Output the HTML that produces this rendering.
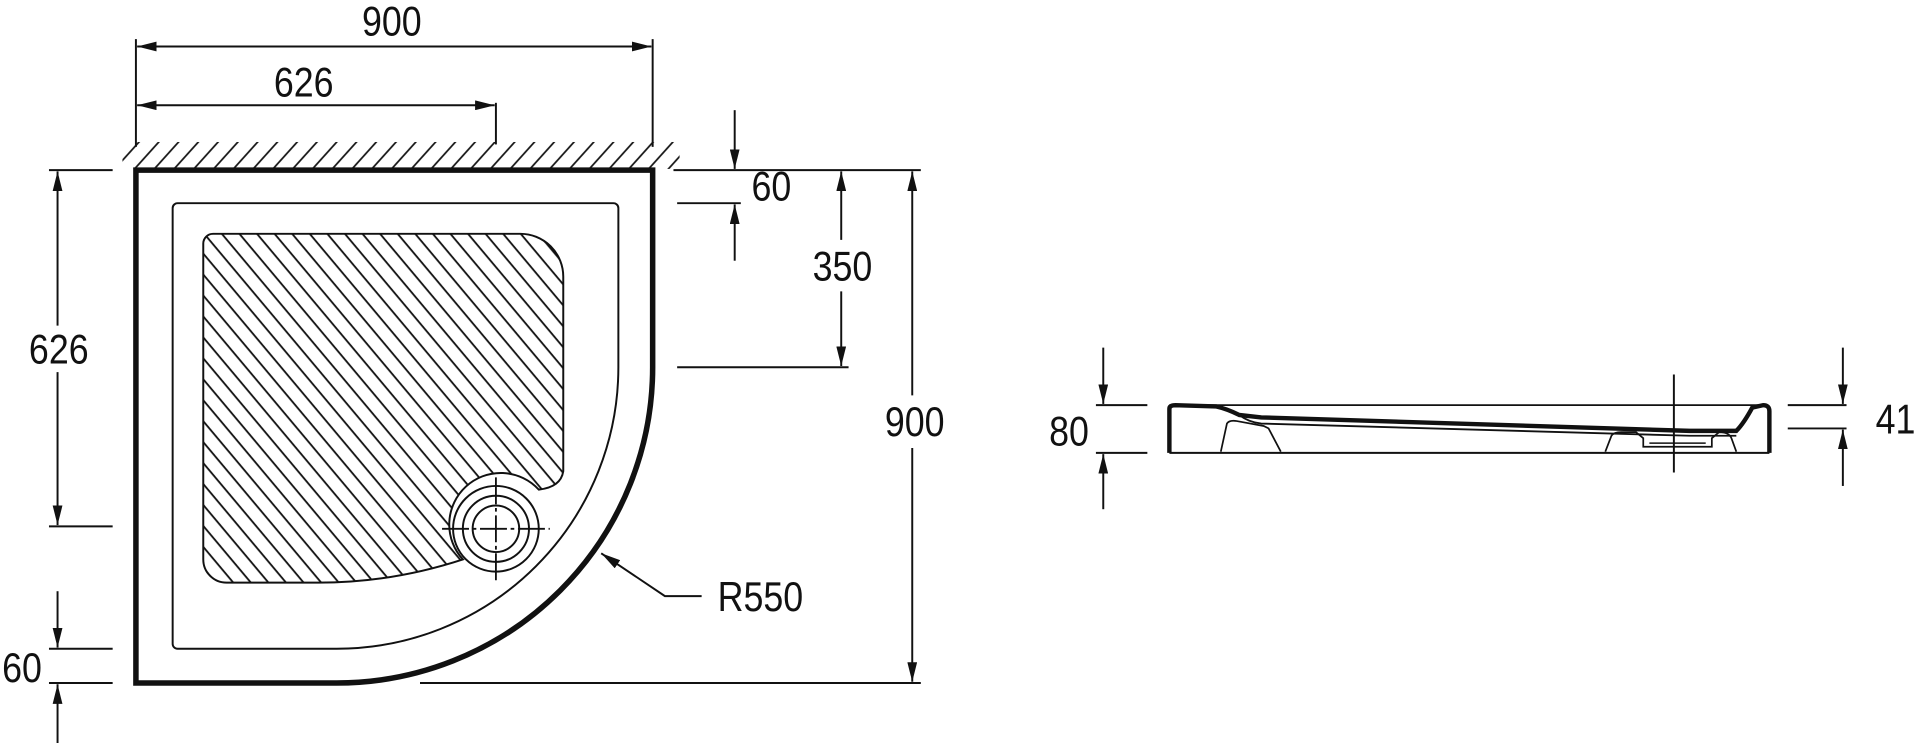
<!DOCTYPE html>
<html><head><meta charset="utf-8"><style>
html,body{margin:0;padding:0;background:#fff;}
svg{display:block;}
text{font-family:"Liberation Sans",sans-serif;font-size:34px;fill:#111;text-anchor:middle;}
</style></head><body>
<svg width="1920" height="743" viewBox="0 0 1568 607" preserveAspectRatio="none" xmlns="http://www.w3.org/2000/svg">
<defs>
<pattern id="hatch" patternUnits="userSpaceOnUse" width="11" height="11" patternTransform="rotate(-40)">
<line x1="5" y1="0" x2="5" y2="11" stroke="#111" stroke-width="1.5"/>
</pattern>
<pattern id="wall" patternUnits="userSpaceOnUse" width="12" height="40" patternTransform="rotate(42)">
<line x1="6" y1="0" x2="6" y2="40" stroke="#111" stroke-width="1.4"/>
</pattern>
<clipPath id="hc"><path d="M174,191 H425 A35,35 0 0 1 460,226 V385 Q458,398 440,400 A38,38 0 0 0 378,457 Q320,476 260,476 H185 A19,19 0 0 1 166,457 V199 A8,8 0 0 1 174,191 Z"/></clipPath>
<marker id="ar" viewBox="0 0 16 8" refX="16" refY="4" markerWidth="16" markerHeight="8" markerUnits="userSpaceOnUse" orient="auto-start-reverse">
<path d="M0,0 L16,4 L0,8 Z" fill="#111"/>
</marker>
</defs>
<g stroke="#111" fill="none">
<rect x="100" y="116" width="455" height="22" fill="url(#wall)" stroke="none"/>
<path d="M111,139 H533 V300 A258,258 0 0 1 275,558 H111 Z" stroke-width="4.5"/>
<path d="M145,166 H501 A4,4 0 0 1 505,170 V300 A230,230 0 0 1 275,530 H145 A4,4 0 0 1 141,526 V170 A4,4 0 0 1 145,166 Z" stroke-width="1.6"/>
<rect x="160" y="185" width="310" height="300" fill="url(#hatch)" stroke="none" clip-path="url(#hc)"/>
<path d="M174,191 H425 A35,35 0 0 1 460,226 V385 Q458,398 440,400 A38,38 0 0 0 378,457 Q320,476 260,476 H185 A19,19 0 0 1 166,457 V199 A8,8 0 0 1 174,191 Z" stroke-width="1.6"/>
<circle cx="405" cy="432" r="35" stroke-width="1.6" fill="#fff"/>
<circle cx="405" cy="432" r="27" stroke-width="1.6"/>
<circle cx="405" cy="432" r="19" stroke-width="1.6"/>
<line x1="361" y1="432" x2="449" y2="432" stroke-width="1.5" stroke-dasharray="22,3,3,3"/>
<line x1="405" y1="390" x2="405" y2="474" stroke-width="1.5" stroke-dasharray="22,3,3,3"/>

<g stroke-width="1.6">
<line x1="111" y1="32" x2="111" y2="120"/><line x1="533" y1="32" x2="533" y2="120"/>
<line x1="112" y1="38" x2="532" y2="38" marker-start="url(#ar)" marker-end="url(#ar)"/>
<line x1="405" y1="84" x2="405" y2="118"/>
<line x1="112" y1="86" x2="404" y2="86" marker-start="url(#ar)" marker-end="url(#ar)"/>
<line x1="40" y1="139" x2="92" y2="139"/><line x1="40" y1="430" x2="92" y2="430"/>
<line x1="47" y1="140" x2="47" y2="266" marker-start="url(#ar)"/>
<line x1="47" y1="304" x2="47" y2="429" marker-end="url(#ar)"/>
<line x1="40" y1="530" x2="92" y2="530"/><line x1="40" y1="558" x2="92" y2="558"/>
<line x1="47" y1="483" x2="47" y2="529" marker-end="url(#ar)"/>
<line x1="47" y1="607" x2="47" y2="559" marker-end="url(#ar)"/>
<line x1="550" y1="139" x2="752" y2="139"/>
<line x1="553" y1="166" x2="605" y2="166"/>
<line x1="600" y1="90" x2="600" y2="138" marker-end="url(#ar)"/>
<line x1="600" y1="213" x2="600" y2="167" marker-end="url(#ar)"/>
<line x1="553" y1="300" x2="693" y2="300"/>
<line x1="687" y1="140" x2="687" y2="196" marker-start="url(#ar)"/>
<line x1="687" y1="238" x2="687" y2="299" marker-end="url(#ar)"/>
<line x1="343" y1="558" x2="752" y2="558"/>
<line x1="745" y1="140" x2="745" y2="323" marker-start="url(#ar)"/>
<line x1="745" y1="366" x2="745" y2="557" marker-end="url(#ar)"/>
<polyline points="573,487 543,487 491,452" marker-end="url(#ar)"/>
</g>

<line x1="955" y1="331" x2="1440" y2="331" stroke-width="1.4"/>
<path d="M955,370 V334 Q955,331 960,331 L993,332 Q1002,334 1012,339 L1030,341 L1380,352 L1418,352 Q1424,346 1431,333 L1440,331 Q1445,331 1445,336 V370" stroke-width="3.6"/>
<path d="M1012,339 Q1020,345 1030,346 L1380,356 L1418,356" stroke-width="1.5"/>
<line x1="955" y1="370" x2="1445" y2="370" stroke-width="1.6"/>
<path d="M997,369 L1002,346 Q1004,343 1010,344 L1032,348 L1036,350 L1046,369" stroke-width="1.4"/>
<path d="M1311,369 L1316,356 Q1318,353 1324,353 L1336,353 L1342,358 V365 H1398 V358 L1404,353 Q1412,353 1414,358 L1418,369" stroke-width="1.4"/>
<path d="M1347,362 H1393" stroke-width="1.2"/>
<line x1="1367" y1="306" x2="1367" y2="386" stroke-width="1.6"/>
<g stroke-width="1.6">
<line x1="895" y1="331" x2="937" y2="331"/><line x1="895" y1="370" x2="937" y2="370"/>
<line x1="901" y1="284" x2="901" y2="330" marker-end="url(#ar)"/>
<line x1="901" y1="416" x2="901" y2="371" marker-end="url(#ar)"/>
<line x1="1460" y1="331" x2="1508" y2="331"/><line x1="1460" y1="350" x2="1508" y2="350"/>
<line x1="1505" y1="284" x2="1505" y2="330" marker-end="url(#ar)"/>
<line x1="1505" y1="397" x2="1505" y2="351" marker-end="url(#ar)"/>
</g>
</g>
<text transform="translate(320,29) scale(0.86,1)">900</text>
<text transform="translate(248,79) scale(0.86,1)">626</text>
<text transform="translate(48,297) scale(0.86,1)">626</text>
<text transform="translate(18,557) scale(0.86,1)">60</text>
<text transform="translate(630,164) scale(0.86,1)">60</text>
<text transform="translate(688,229) scale(0.86,1)">350</text>
<text transform="translate(747,356) scale(0.86,1)">900</text>
<text transform="translate(621,499) scale(0.86,1)">R550</text>
<text transform="translate(873,364) scale(0.86,1)">80</text>
<text transform="translate(1548,354) scale(0.86,1)">41</text>
</svg>
</body></html>
